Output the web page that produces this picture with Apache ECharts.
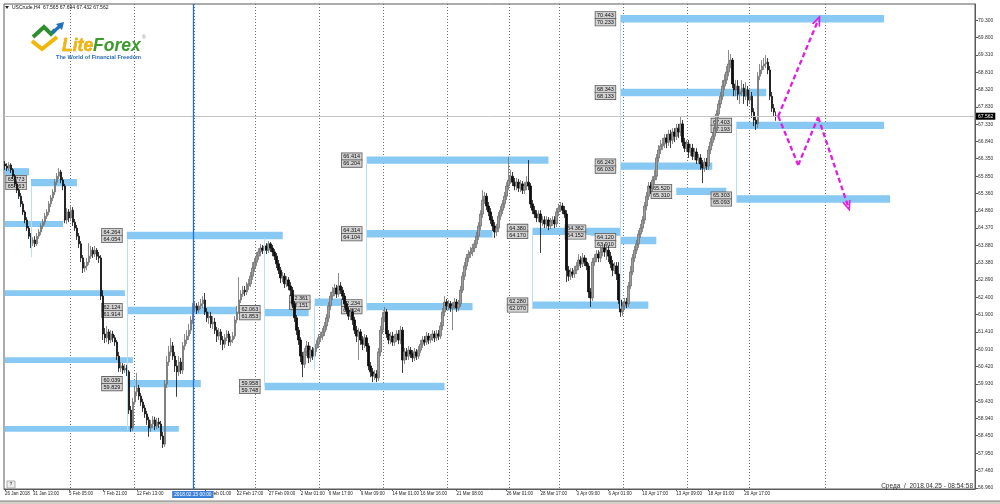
<!DOCTYPE html>
<html><head><meta charset="utf-8">
<script src="https://cdn.jsdelivr.net/npm/echarts@6/dist/echarts.min.js"></script>
<style>html,body{margin:0;padding:0;background:#fff}#c{width:1000px;height:504px}</style>
</head><body><div id="c"></div>
<script>
// ---------- data ----------
const headerText = 'USCrude,H4  67.565 67.694 67.432 67.562';
const statusText = 'Среда  /  2018.04.25 - 08:54:58';
// H4 candles: [open, close, low, high]
const ohlc = [
[66.20,66.14,66.03,66.28],[66.14,66.08,66.00,66.22],[66.08,66.17,66.00,66.25],[66.17,66.03,65.94,66.22],[66.03,65.85,65.77,66.08],
[65.85,65.63,65.54,65.91],[65.63,65.45,65.37,65.71],[65.45,65.28,65.20,65.51],[65.28,65.06,64.97,65.37],[65.06,64.83,64.74,65.14],
[64.83,64.60,64.51,64.88],[64.60,64.37,64.29,64.68],[64.37,64.14,64.06,64.43],[64.14,63.94,63.80,64.23],[63.94,64.03,63.86,64.11],
[64.03,63.92,63.83,64.14],[63.92,64.14,63.86,64.23],[64.14,64.26,64.06,64.34],[64.26,64.43,64.17,64.51],[64.43,64.54,64.34,64.63],
[64.54,64.71,64.46,64.80],[64.71,64.83,64.63,64.91],[64.83,65.06,64.74,65.14],[65.06,65.23,64.97,65.31],[65.23,65.40,65.14,65.48],
[65.40,65.68,65.31,65.77],[65.68,65.85,65.60,65.94],[65.85,65.97,65.77,66.08],[65.97,65.74,65.65,66.03],[65.74,65.57,65.45,65.82],
[65.57,64.60,64.51,65.63],[64.60,64.83,64.49,64.94],[64.83,64.66,64.54,64.91],[64.66,64.88,64.57,65.00],[64.88,64.54,64.43,64.97],
[64.54,64.37,64.29,64.63],[64.37,64.14,64.03,64.46],[64.14,63.92,63.80,64.23],[63.92,63.52,63.40,64.00],[63.52,63.23,63.09,63.60],
[63.23,63.29,63.12,63.40],[63.29,63.40,63.17,63.52],[63.40,63.57,63.32,63.94],[63.57,63.74,63.49,63.86],[63.74,63.63,63.52,63.83],
[63.63,63.74,63.55,63.86],[63.74,63.57,63.46,63.80],[63.57,63.52,63.38,63.69],[63.52,62.43,62.32,63.60],[62.43,61.35,61.18,62.60],
[61.35,61.24,61.09,61.52],[61.24,61.41,61.12,61.58],[61.41,61.18,61.06,61.49],[61.18,61.35,61.09,61.46],[61.35,61.24,61.12,61.44],
[61.24,61.12,61.01,61.32],[61.12,60.72,60.61,61.18],[60.72,60.38,60.27,60.84],[60.38,60.44,60.27,60.55],[60.44,60.32,60.21,60.52],
[60.32,60.38,60.24,60.49],[60.38,60.27,60.15,60.47],[60.27,59.18,59.07,60.32],[59.18,58.67,58.56,59.30],[58.67,59.41,58.58,59.53],
[59.41,59.70,59.33,59.87],[59.70,59.81,59.58,60.24],[59.81,59.58,59.47,59.90],[59.58,59.41,59.30,59.67],[59.41,59.24,59.13,59.50],
[59.24,59.07,58.96,59.33],[59.07,58.90,58.76,59.16],[58.90,58.67,58.42,58.99],[58.67,58.78,58.56,58.90],[58.78,58.90,58.67,59.01],
[58.90,58.73,58.61,58.99],[58.73,58.84,58.64,58.96],[58.84,58.78,58.67,58.96],[58.78,58.44,58.33,58.87],[58.44,58.21,58.10,58.56],
[58.21,59.92,58.13,60.04],[59.92,60.55,59.81,60.72],[60.55,60.84,60.44,61.01],[60.84,61.01,60.72,61.24],[61.01,60.72,60.61,61.12],
[60.72,60.44,60.27,60.84],[60.44,60.27,59.56,60.61],[60.27,60.55,60.15,60.72],[60.55,60.32,60.21,60.67],[60.32,61.01,60.21,61.12],
[61.01,61.18,60.89,61.35],[61.18,61.29,61.06,61.46],[61.29,61.46,61.18,61.64],[61.46,61.75,61.35,61.86],[61.75,62.09,61.64,62.23],
[62.09,62.15,61.98,62.26],[62.15,62.03,61.92,62.23],[62.03,62.15,61.95,62.26],[62.15,62.21,62.06,62.35],[62.21,62.32,62.09,62.43],
[62.32,61.98,61.89,62.52],[61.98,61.81,61.69,62.09],[61.81,61.86,61.64,61.98],[61.86,61.64,61.52,61.98],[61.64,61.69,61.49,61.86],
[61.69,61.46,61.35,61.81],[61.46,61.29,61.12,61.55],[61.29,61.41,61.18,61.52],[61.41,61.18,61.04,61.49],[61.18,61.06,60.89,61.29],
[61.06,61.24,60.95,61.35],[61.24,61.35,61.15,61.46],[61.35,61.12,61.01,61.44],[61.12,61.18,61.01,61.29],[61.18,61.29,61.09,61.41],
[61.29,61.75,61.21,61.86],[61.75,61.98,61.66,62.15],[61.98,62.32,61.92,62.97],[62.32,62.49,62.23,62.60],[62.49,62.60,62.41,62.72],
[62.60,62.55,62.43,62.72],[62.55,62.72,62.46,62.83],[62.72,62.78,62.60,62.92],[62.78,63.00,62.69,63.12],[63.00,63.23,62.89,63.40],
[63.23,63.40,63.12,63.52],[63.40,63.57,63.29,63.69],[63.57,63.69,63.46,63.80],[63.69,63.80,63.57,63.92],[63.80,63.74,63.63,63.89],
[63.74,63.86,63.66,63.94],[63.86,63.74,63.63,63.94],[63.74,63.92,63.66,64.00],[63.92,63.80,63.69,63.97],[63.80,63.69,63.57,63.89],
[63.69,63.57,63.46,63.77],[63.57,63.35,63.23,63.66],[63.35,63.17,63.06,63.46],[63.17,62.95,62.80,63.26],[62.95,63.00,62.83,63.12],
[63.00,62.78,62.66,63.09],[62.78,62.89,62.69,63.00],[62.89,62.72,62.60,62.97],[62.72,62.60,62.43,62.83],[62.60,62.21,62.09,62.69],
[62.21,61.81,61.69,62.29],[61.81,61.46,61.32,61.89],[61.46,61.18,61.04,61.55],[61.18,60.72,60.55,61.26],[60.72,60.49,60.12,60.84],
[60.49,60.84,60.38,60.95],[60.84,61.01,60.72,61.15],[61.01,60.67,60.52,61.12],[60.67,60.89,60.55,61.01],[60.89,60.72,60.61,60.98],
[60.72,60.95,60.61,61.06],[60.95,61.06,60.84,61.18],[61.06,61.24,60.95,61.35],[61.24,61.29,61.12,61.41],[61.29,61.41,61.18,61.52],
[61.41,61.58,61.29,61.69],[61.58,61.81,61.46,61.92],[61.81,62.15,61.69,62.26],[62.15,62.43,62.03,62.55],[62.43,62.55,62.32,62.69],
[62.55,62.66,62.43,62.78],[62.66,62.49,62.38,62.75],[62.49,62.72,62.41,63.09],[62.72,62.60,62.49,62.83],[62.60,62.43,62.32,62.69],
[62.43,62.21,62.09,62.52],[62.21,62.03,61.92,62.29],[62.03,61.86,61.75,62.12],[61.86,61.98,61.75,62.09],[61.98,61.75,61.61,62.06],
[61.75,61.46,61.35,61.84],[61.46,61.29,61.12,61.58],[61.29,61.41,60.61,61.52],[61.41,61.18,61.04,61.49],[61.18,61.06,60.89,61.29],
[61.06,61.24,60.95,61.35],[61.24,61.01,60.84,61.32],[61.01,60.44,60.32,61.09],[60.44,60.27,60.12,60.55],[60.27,60.15,59.98,60.38],
[60.15,60.21,60.04,60.32],[60.21,60.10,59.98,60.32],[60.10,60.84,60.01,60.95],[60.84,61.46,60.72,61.58],[61.46,61.81,61.35,61.98],
[61.81,61.98,61.69,62.12],[61.98,61.35,61.24,62.06],[61.35,61.18,61.06,61.46],[61.18,61.29,61.06,61.41],[61.29,61.12,61.01,61.41],
[61.12,61.24,61.01,61.35],[61.24,61.35,61.12,61.46],[61.35,61.18,61.06,61.46],[61.18,61.46,61.06,61.58],[61.46,60.61,60.24,61.55],
[60.61,60.84,60.49,60.95],[60.84,60.72,60.61,60.95],[60.72,60.89,60.61,61.01],[60.89,60.78,60.67,60.98],[60.78,60.67,60.55,60.89],
[60.67,60.84,60.58,60.95],[60.84,60.72,60.61,60.92],[60.72,60.89,60.64,61.01],[60.89,61.06,60.81,61.18],[61.06,61.18,60.95,61.29],
[61.18,61.12,61.01,61.29],[61.12,61.29,61.04,61.41],[61.29,61.18,61.06,61.38],[61.18,61.24,61.09,61.35],[61.24,61.35,61.15,61.46],
[61.35,61.24,61.12,61.44],[61.24,61.35,61.15,61.46],[61.35,61.29,61.18,61.46],[61.29,61.58,61.21,61.69],[61.58,61.98,61.46,62.09],
[61.98,62.26,61.86,62.43],[62.26,62.15,62.03,62.35],[62.15,62.21,62.03,62.32],[62.21,62.09,61.98,62.29],[62.09,62.15,61.46,62.26],
[62.15,62.26,62.06,62.38],[62.26,62.09,61.98,62.35],[62.09,62.21,62.00,62.32],[62.21,62.60,62.12,62.72],[62.60,63.00,62.52,63.12],
[63.00,63.29,62.89,63.40],[63.29,63.52,63.17,63.63],[63.52,63.63,63.40,63.74],[63.63,63.69,63.52,63.83],[63.69,63.80,63.57,63.92],
[63.80,63.92,63.69,64.03],[63.92,64.14,63.80,64.26],[64.14,64.43,64.03,64.54],[64.43,64.77,64.31,64.88],[64.77,65.17,64.66,65.45],
[65.17,65.28,65.06,65.40],[65.28,65.00,64.88,65.37],[65.00,64.83,64.71,65.11],[64.83,64.60,64.49,64.94],[64.60,64.43,64.29,64.71],
[64.43,64.26,64.09,64.54],[64.26,64.37,64.14,64.49],[64.37,64.71,64.26,64.83],[64.71,64.88,64.60,65.00],[64.88,65.06,64.77,65.17],
[65.06,65.28,64.94,65.40],[65.28,65.57,65.17,65.68],[65.57,65.74,65.45,66.40],[65.74,65.85,65.63,66.03],[65.85,65.68,65.57,65.97],
[65.68,65.57,65.45,65.80],[65.57,65.68,65.45,65.80],[65.68,65.51,65.40,65.77],[65.51,65.63,65.40,65.74],[65.63,65.45,65.34,65.71],
[65.45,65.57,65.34,65.68],[65.57,65.68,65.45,65.85],[65.68,65.57,65.45,66.31],[65.57,65.06,64.94,65.65],[65.06,64.88,64.77,65.17],
[64.88,64.77,64.66,65.00],[64.77,64.66,64.54,64.88],[64.66,64.77,64.54,64.88],[64.77,64.54,63.66,64.88],[64.54,64.60,64.43,64.71],
[64.60,64.49,64.37,64.71],[64.49,64.60,64.37,64.71],[64.60,64.43,64.31,64.68],[64.43,64.54,64.34,64.66],[64.54,64.60,64.43,64.71],
[64.60,64.49,64.37,64.71],[64.49,64.83,64.40,64.94],[64.83,64.94,64.71,65.06],[64.94,65.00,64.83,65.11],[65.00,64.88,64.77,65.09],
[64.88,64.77,64.66,65.00],[64.77,63.17,62.83,64.88],[63.17,63.00,62.86,63.29],[63.00,63.12,62.89,63.23],[63.12,63.06,62.95,63.23],
[63.06,63.17,62.95,63.29],[63.17,63.29,63.06,63.40],[63.29,63.46,63.17,63.63],[63.46,63.35,63.23,63.57],[63.35,63.52,63.26,63.66],
[63.52,63.40,63.29,63.60],[63.40,63.29,63.17,63.52],[63.29,62.55,62.38,63.37],[62.55,62.38,62.12,62.66],[62.38,63.40,62.29,63.52],
[63.40,63.52,63.29,63.63],[63.52,63.63,63.40,63.74],[63.63,63.52,63.40,63.74],[63.52,63.69,63.40,63.86],[63.69,63.80,63.57,63.94],
[63.80,63.69,63.55,63.92],[63.69,63.74,63.46,63.89],[63.74,63.57,63.40,63.86],[63.57,63.35,63.23,63.69],[63.35,63.17,63.00,63.46],
[63.17,63.29,63.06,63.40],[63.29,63.06,62.89,63.40],[63.06,62.32,62.21,63.40],[62.32,61.98,61.84,62.43],[61.98,62.15,61.86,62.26],
[62.15,62.26,62.03,62.38],[62.26,62.21,62.09,62.38],[62.21,62.72,62.12,62.83],[62.72,63.12,62.63,63.29],[63.12,63.52,63.03,63.63],
[63.52,63.74,63.40,63.86],[63.74,63.92,63.63,64.03],[63.92,64.20,63.80,64.31],[64.20,64.37,64.09,64.49],[64.37,64.60,64.26,64.71],
[64.60,65.00,64.49,65.11],[65.00,65.28,64.88,65.40],[65.28,65.57,65.17,65.68],[65.57,65.51,65.34,65.68],[65.51,65.74,65.40,65.85],
[65.74,65.85,65.63,66.03],[65.85,66.37,65.74,66.48],[66.37,66.60,66.25,66.74],[66.60,66.71,66.48,66.88],[66.71,66.77,66.60,66.94],
[66.77,66.94,66.65,67.05],[66.94,66.82,66.65,67.05],[66.82,67.05,66.71,67.17],[67.05,66.88,66.65,67.17],[66.88,67.11,66.77,67.22],
[67.11,66.99,66.82,67.22],[66.99,67.22,66.88,67.34],[67.22,67.11,66.94,67.34],[67.11,67.34,66.99,67.54],[67.34,66.82,66.71,67.45],
[66.82,66.65,66.54,66.94],[66.65,66.77,66.54,66.88],[66.77,66.54,66.37,66.88],[66.54,66.65,66.42,66.77],[66.65,66.42,66.31,66.77],
[66.42,66.54,66.31,66.65],[66.54,66.31,66.20,66.65],[66.31,66.37,66.20,66.48],[66.37,66.20,66.03,66.48],[66.20,66.08,65.65,66.31],
[66.08,66.25,65.97,66.37],[66.25,66.14,66.03,66.37],[66.14,66.60,66.03,66.71],[66.60,66.82,66.48,66.94],[66.82,66.99,66.71,67.11],
[66.99,67.22,66.88,67.34],[67.22,67.62,67.11,67.74],[67.62,67.91,67.51,68.02],[67.91,68.13,67.79,68.25],[68.13,68.42,68.02,68.59],
[68.42,68.59,68.31,68.76],[68.59,68.82,68.48,68.99],[68.82,69.05,68.70,69.45],[69.05,69.16,68.93,69.33],[69.16,68.48,68.36,69.22],
[68.48,68.31,68.13,68.59],[68.31,68.42,68.13,68.59],[68.42,68.19,68.02,68.59],[68.19,68.25,67.91,68.42],[68.25,68.36,68.13,68.59],
[68.36,68.13,67.91,68.48],[68.13,68.31,68.02,68.53],[68.31,68.02,67.85,68.42],[68.02,68.13,67.91,68.31],[68.13,67.68,67.51,68.25],
[67.68,67.45,67.28,67.79],[67.45,67.34,67.17,67.56],[67.34,68.70,67.22,68.82],[68.70,68.88,68.59,69.05],[68.88,68.99,68.76,69.16],
[68.99,69.05,68.88,69.22],[69.05,69.10,68.93,69.30],[69.10,68.88,68.76,69.22],[68.88,68.13,68.02,68.99],[68.13,67.79,67.68,68.25],
[67.79,67.68,67.56,67.91],[67.565,67.562,67.432,67.694]
];
// x-axis tick labels: [bar index, text]
const xTickLabels = [[0,'26 Jan 2018'],[14,'31 Jan 13:00'],[32,'5 Feb 05:00'],[49,'7 Feb 21:00'],[66,'12 Feb 13:00'],
  [100,'20 Feb 01:00'],[116,'22 Feb 17:00'],[132,'27 Feb 09:00'],[148,'2 Mar 01:00'],[162,'6 Mar 17:00'],[178,'9 Mar 09:00'],
  [194,'14 Mar 01:00'],[208,'16 Mar 16:00'],[226,'21 Mar 08:00'],[251,'26 Mar 01:00'],[268,'28 Mar 17:00'],[286,'3 Apr 09:00'],
  [302,'6 Apr 01:00'],[319,'10 Apr 17:00'],[336,'13 Apr 09:00'],[352,'18 Apr 01:00'],[370,'20 Apr 17:00']];
const gridLineIdx = [33,65,95,126,158,190,222,253,278,310,342,373,411];
const yTicks = [56.96,57.46,57.95,58.45,58.94,59.43,59.93,60.42,60.91,61.41,61.90,62.40,62.89,63.38,63.88,64.37,64.86,65.36,65.85,66.35,66.84,67.33,67.83,68.32,68.81,69.31,69.80,70.30];
const lastPrice = 67.562;
const crosshairIdx = 94;
const crosshairLabel = '2018.02.15 00:00';
// support / resistance zones: [high, low, startBar, endBar, showLabel]
const zones = [
  [70.443,70.233,308,440,1],[68.343,68.133,308,381,1],[67.403,67.193,366,440,1],[66.243,66.033,308,354,1],
  [65.520,65.310,336,361,1],[65.303,65.093,366,443,1],[66.414,66.204,181,272,1],[64.314,64.104,181,244,1],
  [64.380,64.170,264,308,1],[64.362,64.152,293,308,1],[64.120,63.910,308,326,1],[64.264,64.054,61,139,1],
  [66.080,65.870,0,12,0],[65.773,65.563,13,36,1],[64.570,64.400,0,29,0],[62.600,62.430,0,60,0],
  [62.124,61.914,61,116,1],[62.063,61.853,130,152,1],[62.361,62.151,155,169,1],[62.234,62.024,181,234,1],
  [62.280,62.070,264,322,1],[60.039,59.829,61,98,1],[59.958,59.748,130,220,1],[60.690,60.520,0,64,0],[58.730,58.560,0,87,0]
];
// thin anchor lines: [bar, fromPrice, toPrice]
const anchors = [[13,65.56,63.54],[61,64.05,58.61],[130,64.09,59.87],[155,62.21,60.32],[181,66.20,62.00],[264,64.17,62.07],[308,70.23,62.07],[366,67.19,65.09]];
// forecast paths: [bar, price]
const fcUp = [[387,67.56],[407,70.30]];
const fcDown = [[387,67.56],[397,66.17],[407,67.53],[422,64.99]];

// ---------- chart ----------
const N = 486;
const cats = Array.from({length:N}, (_, i) => String(i));
const labelMap = new Map(xTickLabels);
const gridSet = new Set(gridLineIdx);
const FONT = '"Liberation Sans", Arial, sans-serif';
const chevron = 'path://M0,10 L5,0 L10,10 L8,10 L5,4 L2,10 Z';

function segs(pts) {
  const out = [];
  for (let i = 0; i < pts.length - 1; i++) {
    const last = i === pts.length - 2;
    out.push([{coord: pts[i], symbol: 'none'}, {coord: pts[i+1], symbol: last ? chevron : 'none', symbolSize: [9, 11]}]);
  }
  return out;
}

const chart = echarts.init(document.getElementById('c'), null, {renderer: 'canvas'});
chart.setOption({
  animation: false,
  backgroundColor: '#ffffff',
  grid: {left: 4, right: 25, top: 4, bottom: 15, show: true, borderColor: '#5a5a5a', borderWidth: 1, backgroundColor: '#fff'},
  xAxis: {
    type: 'category', data: cats, boundaryGap: true,
    axisLine: {show: true, lineStyle: {color: '#5a5a5a'}},
    axisTick: {show: true, alignWithLabel: true, length: 2, interval: (i) => labelMap.has(i), lineStyle: {color: '#5a5a5a'}},
    axisLabel: {show: true, interval: (i) => labelMap.has(i), formatter: (v, i) => labelMap.get(i) || '', align: 'left',
      fontSize: 4.5, color: '#222', margin: 2, fontFamily: FONT, hideOverlap: false},
    splitLine: {show: true, interval: (i) => gridSet.has(i), lineStyle: {color: '#6e6e6e', type: [1, 2], width: 1}}
  },
  yAxis: {
    type: 'value', position: 'right', min: 56.93, max: 70.76, scale: true,
    axisLine: {show: true, lineStyle: {color: '#5a5a5a'}},
    axisTick: {show: true, customValues: yTicks, length: 3, lineStyle: {color: '#5a5a5a'}},
    axisLabel: {customValues: yTicks, formatter: (v) => v.toFixed(3), fontSize: 5, color: '#333', margin: 3, fontFamily: FONT},
    splitLine: {show: false}
  },
  series: [
    {
      type: 'line', data: [], z: 1, silent: true,
      markArea: {
        silent: true,
        itemStyle: {color: '#87c9f3'},
        label: {
          show: true, position: 'left', distance: 5,
          formatter: (p) => p.name ? p.name.split('|').map(s => '{b|' + s + '}').join('\n') : '',
          rich: {b: {fontSize: 5.5, fontFamily: FONT, color: '#111', backgroundColor: '#d3d3d3', borderColor: '#5c5c5c', borderWidth: 0.8, padding: [0.5, 1.5, 0, 1.5], lineHeight: 7}}
        },
        data: zones.map(z => [
          {name: z[4] ? z[0].toFixed(3) + '|' + z[1].toFixed(3) : '', xAxis: z[2], yAxis: z[0], label: {show: !!z[4]}},
          {xAxis: z[3], yAxis: z[1]}
        ])
      },
      markLine: {
        silent: true, symbol: ['none', 'none'], animation: false,
        data: [
          {yAxis: lastPrice, lineStyle: {color: '#c4c4c4', type: 'solid', width: 1},
           label: {show: true, position: 'end', distance: 1, formatter: lastPrice.toFixed(3), color: '#fff', backgroundColor: '#000',
             fontSize: 5, fontFamily: FONT, padding: [1, 2]}},
          {xAxis: crosshairIdx, lineStyle: {color: '#1f6fe5', type: 'solid', width: 1.3},
           label: {show: true, position: 'start', distance: 2, formatter: crosshairLabel, color: '#fff', backgroundColor: '#3f80da',
             fontSize: 4.8, fontFamily: FONT, padding: [1, 2]}},
          ...anchors.map(a => [{coord: [a[0], a[1]], lineStyle: {color: '#b8dff7', type: 'solid', width: 1}, label: {show: false}}, {coord: [a[0], a[2]]}])
        ]
      }
    },
    {
      type: 'candlestick', z: 3, data: ohlc, barWidth: 2,
      itemStyle: {color: '#9c9c9c', color0: '#0d0d0d', borderColor: '#6f6f6f', borderColor0: '#0d0d0d', borderWidth: 0.8}
    },
    {
      type: 'line', data: [], z: 5, silent: true,
      markLine: {
        silent: true, animation: false,
        lineStyle: {color: '#e21de2', width: 2.3, type: [5, 3]},
        label: {show: false},
        data: [...segs(fcUp), ...segs(fcDown)]
      }
    }
  ],
  graphic: [
    {type: 'polygon', shape: {points: [[5, 6], [9, 6], [7, 9]]}, style: {fill: '#222'}, z: 10},
    {type: 'text', x: 12, y: 5, style: {text: headerText, fill: '#111', font: '5px ' + FONT}, z: 10},
    // logo
    {type: 'polyline', shape: {points: [[32, 41], [42, 49], [57, 37]]}, style: {stroke: '#f2b705', lineWidth: 4, fill: null}, z: 10},
    {type: 'polyline', shape: {points: [[33, 37], [44, 27], [51, 34], [55, 30]]}, style: {stroke: '#2f8f2f', lineWidth: 4, fill: null}, z: 10},
    {type: 'line', shape: {x1: 52, y1: 33, x2: 60, y2: 26}, style: {stroke: '#1f6fc5', lineWidth: 3}, z: 10},
    {type: 'polygon', shape: {points: [[56, 24], [64, 22], [62, 30]]}, style: {fill: '#1f6fc5'}, z: 10},
    {type: 'text', x: 62, y: 37, style: {text: 'Lite', fill: '#f2b705', stroke: '#c98c00', lineWidth: 0.4, font: 'italic bold 17.5px ' + FONT}, z: 10},
    {type: 'text', x: 93, y: 37, style: {text: 'Forex', fill: '#3c9a2e', font: 'italic bold 17.5px ' + FONT}, z: 10},
    {type: 'text', x: 142, y: 35, style: {text: '®', fill: '#888', font: '5px ' + FONT}, z: 10},
    {type: 'text', x: 56, y: 54, style: {text: 'The World of Financial Freedom', fill: '#2a6db5', font: 'bold 5.6px ' + FONT}, z: 10},
    // status text and help box
    {type: 'text', x: 973, y: 483, style: {text: statusText, fill: '#333', font: '6.5px ' + FONT, align: 'right'}, z: 10},
    {type: 'rect', shape: {x: 7, y: 481, width: 8, height: 7}, style: {fill: '#f0f0f0', stroke: '#999', lineWidth: 0.8}, z: 10},
    {type: 'text', x: 9.5, y: 482, style: {text: '?', fill: '#333', font: '5px ' + FONT}, z: 11},
    // window frame bottom
    {type: 'rect', shape: {x: 0, y: 501, width: 1000, height: 3}, style: {fill: '#d4d0c8'}, z: 10},
    {type: 'line', shape: {x1: 0, y1: 501, x2: 1000, y2: 501}, style: {stroke: '#808080', lineWidth: 1}, z: 10}
  ]
});
</script></body></html>
